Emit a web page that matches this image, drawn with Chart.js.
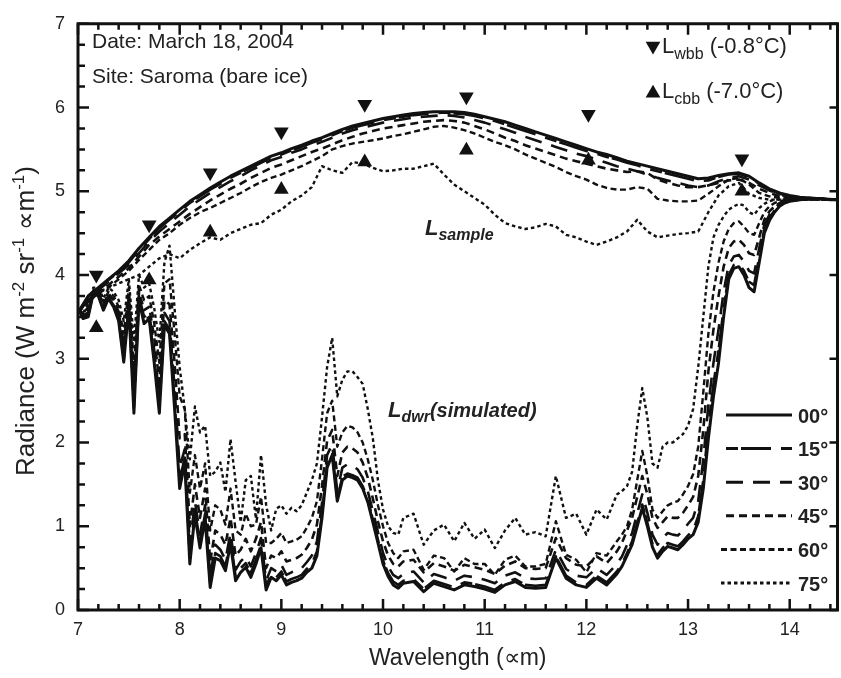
<!DOCTYPE html>
<html><head><meta charset="utf-8">
<script src="https://cdn.jsdelivr.net/npm/chart.js@4.4.1/dist/chart.umd.min.js"></script>
<style>html,body{margin:0;padding:0;background:#fff;overflow:hidden}#wrap{width:846px;height:678px}</style>
</head><body><div id="wrap"><canvas id="c" width="846" height="678" style="width:846px;height:678px"></canvas></div>
<script>
// ---------- data ----------
const xTickLabels = [7, 8, 9, 10, 11, 12, 13, 14];
const yTickLabels = [0, 1, 2, 3, 4, 5, 6, 7];
const angleLabels = ['00°', '15°', '30°', '45°', '60°', '75°'];

// blackbody reference points
const bbWavelength = [7.18, 7.70, 8.30, 9.00, 9.82, 10.82, 12.02, 13.53];
const lwbb = [4.00, 4.60, 5.22, 5.71, 6.04, 6.13, 5.92, 5.39];
const lcbb = [3.37, 3.94, 4.51, 5.02, 5.35, 5.49, 5.37, 5.00];

// L_sample family
const wlSample = [
 7.0,7.1,7.2,7.3,7.4,7.5,7.6,7.7,7.8,7.9,
 8.0,8.1,8.2,8.3,8.4,8.5,8.6,8.7,8.8,8.9,
 9.0,9.1,9.2,9.3,9.4,9.5,9.6,9.7,9.8,9.9,
 10.0,10.1,10.2,10.3,10.4,10.5,10.6,10.7,10.8,10.9,
 11.0,11.1,11.2,11.3,11.4,11.5,11.6,11.7,11.8,11.9,
 12.0,12.1,12.2,12.3,12.4,12.5,12.6,12.7,12.8,12.9,
 13.0,13.1,13.2,13.3,13.4,13.5,13.6,13.7,13.8,13.9,
 14.0,14.1,14.2,14.3,14.4,14.47];
const sample00 = [
 3.55,3.75,3.85,3.95,4.05,4.17,4.32,4.45,4.58,4.68,
 4.78,4.88,4.96,5.04,5.11,5.18,5.24,5.30,5.36,5.42,
 5.46,5.51,5.55,5.60,5.64,5.69,5.74,5.78,5.81,5.84,
 5.87,5.89,5.91,5.93,5.94,5.95,5.95,5.95,5.94,5.92,
 5.89,5.86,5.83,5.79,5.75,5.71,5.67,5.63,5.59,5.55,
 5.51,5.47,5.44,5.40,5.36,5.33,5.30,5.27,5.24,5.21,
 5.18,5.15,5.16,5.19,5.21,5.22,5.18,5.10,5.03,4.98,
 4.95,4.93,4.92,4.91,4.90,4.90];
const sample15 = [
 3.55,3.74,3.84,3.94,4.04,4.15,4.30,4.43,4.56,4.66,
 4.76,4.86,4.94,5.02,5.09,5.16,5.22,5.28,5.34,5.40,
 5.44,5.49,5.53,5.58,5.62,5.67,5.72,5.76,5.79,5.82,
 5.85,5.87,5.89,5.91,5.92,5.93,5.94,5.93,5.92,5.90,
 5.87,5.84,5.80,5.76,5.72,5.68,5.64,5.60,5.56,5.52,
 5.48,5.45,5.41,5.38,5.34,5.31,5.27,5.24,5.21,5.18,
 5.15,5.12,5.13,5.17,5.20,5.21,5.17,5.09,5.02,4.97,
 4.94,4.93,4.92,4.91,4.90,4.90];
const sample30 = [
 3.55,3.72,3.82,3.92,4.02,4.12,4.26,4.40,4.52,4.62,
 4.72,4.82,4.90,4.98,5.05,5.12,5.18,5.25,5.31,5.37,
 5.41,5.46,5.50,5.55,5.59,5.64,5.69,5.73,5.76,5.79,
 5.82,5.84,5.86,5.88,5.89,5.90,5.91,5.90,5.88,5.85,
 5.82,5.78,5.74,5.70,5.65,5.61,5.57,5.53,5.49,5.45,
 5.42,5.38,5.34,5.30,5.27,5.24,5.20,5.16,5.13,5.10,
 5.07,5.05,5.07,5.12,5.16,5.18,5.14,5.07,5.01,4.96,
 4.93,4.92,4.91,4.91,4.90,4.90];
const sample45 = [
 3.55,3.70,3.80,3.88,3.98,4.08,4.22,4.36,4.46,4.55,
 4.64,4.73,4.81,4.89,4.96,5.03,5.09,5.16,5.22,5.28,
 5.32,5.37,5.42,5.47,5.51,5.56,5.61,5.65,5.69,5.72,
 5.75,5.77,5.79,5.81,5.83,5.84,5.85,5.84,5.82,5.78,
 5.74,5.69,5.64,5.60,5.55,5.51,5.47,5.43,5.39,5.36,
 5.33,5.30,5.27,5.25,5.23,5.24,5.22,5.14,5.10,5.07,
 5.05,5.05,5.07,5.10,5.13,5.14,5.10,5.03,4.98,4.94,
 4.92,4.91,4.91,4.90,4.90,4.90];
const sample60 = [
 3.55,3.68,3.78,3.85,3.95,4.05,4.18,4.30,4.42,4.50,
 4.60,4.68,4.75,4.80,4.86,4.92,4.98,5.05,5.11,5.16,
 5.20,5.25,5.30,5.36,5.42,5.50,5.54,5.57,5.59,5.61,
 5.63,5.66,5.68,5.71,5.74,5.77,5.78,5.76,5.73,5.69,
 5.64,5.59,5.55,5.50,5.44,5.39,5.34,5.29,5.23,5.18,
 5.14,5.08,5.04,5.02,5.02,5.05,5.03,4.91,4.89,4.88,
 4.88,4.89,4.97,5.06,5.14,5.16,5.08,4.98,4.94,4.92,
 4.91,4.90,4.90,4.90,4.90,4.90];
const sample75 = [
 3.55,3.70,3.80,3.85,3.90,3.95,4.00,4.10,4.20,4.25,
 4.20,4.30,4.38,4.45,4.42,4.50,4.55,4.60,4.62,4.72,
 4.78,4.88,4.95,5.05,5.30,5.25,5.22,5.35,5.33,5.28,
 5.24,5.25,5.27,5.27,5.30,5.33,5.20,5.08,5.00,4.92,
 4.84,4.72,4.62,4.58,4.55,4.57,4.61,4.58,4.48,4.45,
 4.40,4.36,4.40,4.45,4.52,4.66,4.52,4.45,4.47,4.49,
 4.50,4.52,4.75,4.95,5.06,5.10,4.97,4.92,4.90,4.90,
 4.90,4.90,4.90,4.90,4.90,4.90];

// L_dwr (simulated) family
const wlDwr = [
 7.00,7.05,7.10,7.15,7.20, 7.25,7.30,7.35,7.40,7.45, 7.50,7.55,7.60,7.65,7.70,
 7.75,7.80,7.85,7.90,7.95, 8.00,8.05,8.10,8.15,8.20, 8.25,8.30,8.35,8.40,8.45,
 8.50,8.55,8.60,8.65,8.70, 8.75,8.80,8.85,8.90,8.95, 9.00,9.05,9.10,9.15,9.20,
 9.25,9.30,9.35,9.40,9.45, 9.50,9.55,9.60,9.65,9.70, 9.75,9.80,9.85,9.90,9.95,
 10.00,10.05,10.10,10.15,10.20,
 10.3,10.4,10.5,10.6,10.7, 10.8,10.9,11.0,11.1,11.2, 11.3,11.4,11.5,11.6,11.7,
 11.8,11.9,12.0,12.1,12.2, 12.3,
 12.35,12.40,12.45,12.50,12.55, 12.60,12.65,12.70,12.75,12.80, 12.85,12.90,12.95,13.00,13.05,
 13.10,13.15,13.20,13.25,13.30, 13.35,13.40,13.45,13.50,13.55, 13.60,13.65,13.70,13.75,13.80,
 13.85,13.90,13.95,14.00,
 14.1,14.2,14.3,14.47];
const dwr00 = [
 3.60,3.48,3.50,3.78,3.75, 3.58,3.72,3.62,3.45,2.96, 3.62,2.35,3.70,3.42,3.48,
 2.95,2.35,3.40,3.30,2.40, 1.45,1.76,0.55,1.14,0.74, 1.09,0.27,0.62,0.59,0.47,
 0.79,0.35,0.45,0.51,0.39, 0.55,0.74,0.24,0.39,0.35, 0.42,0.30,0.33,0.35,0.38,
 0.45,0.50,0.65,1.10,1.70, 1.85,1.30,1.55,1.60,1.58, 1.55,1.45,1.29,1.05,0.80,
 0.55,0.40,0.30,0.26,0.32,
 0.34,0.22,0.32,0.28,0.24, 0.30,0.28,0.25,0.21,0.30, 0.34,0.27,0.26,0.27,0.62,
 0.38,0.30,0.27,0.38,0.30, 0.43,
 0.52,0.65,0.78,1.00,1.22, 1.00,0.75,0.62,0.70,0.76, 0.74,0.72,0.78,0.85,0.90,
 1.05,1.45,2.05,2.55,2.95, 3.50,3.95,4.08,4.10,4.00, 3.85,3.80,4.15,4.50,4.65,
 4.75,4.82,4.86,4.88,
 4.90,4.91,4.91,4.90];
const dwr15 = [
 3.60,3.50,3.52,3.78,3.76, 3.60,3.73,3.64,3.48,3.00, 3.64,2.42,3.72,3.45,3.50,
 3.00,2.42,3.45,3.35,2.50, 1.55,1.82,0.62,1.20,0.80, 1.15,0.32,0.68,0.64,0.52,
 0.84,0.40,0.50,0.56,0.44, 0.60,0.78,0.28,0.43,0.39, 0.46,0.34,0.37,0.39,0.42,
 0.49,0.55,0.70,1.15,1.74, 1.88,1.33,1.59,1.63,1.61, 1.58,1.48,1.32,1.08,0.84,
 0.59,0.44,0.34,0.30,0.35,
 0.37,0.25,0.35,0.31,0.27, 0.33,0.31,0.28,0.24,0.33, 0.37,0.30,0.29,0.30,0.64,
 0.41,0.33,0.30,0.41,0.33, 0.46,
 0.55,0.68,0.82,1.04,1.26, 1.04,0.79,0.66,0.74,0.80, 0.78,0.76,0.82,0.89,0.95,
 1.12,1.55,2.20,2.70,3.10, 3.60,4.00,4.12,4.14,4.05, 3.92,3.88,4.22,4.55,4.68,
 4.77,4.83,4.87,4.89,
 4.90,4.91,4.91,4.90];
const dwr30 = [
 3.60,3.52,3.55,3.79,3.78, 3.62,3.75,3.66,3.52,3.08, 3.68,2.55,3.75,3.50,3.55,
 3.10,2.55,3.55,3.45,2.65, 1.70,1.92,0.75,1.30,0.90, 1.25,0.40,0.78,0.72,0.60,
 0.92,0.48,0.58,0.64,0.52, 0.68,0.86,0.35,0.50,0.46, 0.54,0.42,0.45,0.47,0.50,
 0.57,0.65,0.82,1.28,1.85, 1.98,1.42,1.70,1.74,1.72, 1.68,1.58,1.42,1.18,0.93,
 0.68,0.52,0.42,0.38,0.43,
 0.46,0.33,0.43,0.39,0.35, 0.41,0.39,0.36,0.32,0.41, 0.45,0.38,0.37,0.38,0.72,
 0.49,0.41,0.39,0.50,0.42, 0.55,
 0.64,0.78,0.92,1.15,1.38, 1.16,0.90,0.78,0.86,0.92, 0.90,0.89,0.95,1.03,1.10,
 1.30,1.80,2.45,2.95,3.35, 3.80,4.12,4.22,4.24,4.16, 4.05,4.02,4.32,4.60,4.72,
 4.80,4.85,4.88,4.89,
 4.90,4.91,4.91,4.90];
const dwr45 = [
 3.60,3.53,3.58,3.80,3.80, 3.65,3.78,3.70,3.56,3.18, 3.75,2.70,3.80,3.58,3.62,
 3.25,2.72,3.70,3.65,2.95, 2.05,2.10,1.00,1.50,1.10, 1.45,0.58,0.95,0.90,0.78,
 1.10,0.65,0.72,0.85,0.70, 0.85,1.05,0.50,0.65,0.62, 0.70,0.58,0.60,0.62,0.66,
 0.74,0.84,1.02,1.48,2.02, 2.15,1.60,1.88,1.95,1.93, 1.88,1.76,1.58,1.33,1.06,
 0.82,0.65,0.55,0.52,0.58,
 0.60,0.45,0.56,0.52,0.47, 0.54,0.51,0.48,0.43,0.53, 0.58,0.50,0.49,0.50,0.86,
 0.62,0.54,0.52,0.64,0.56, 0.70,
 0.80,0.95,1.10,1.35,1.60, 1.38,1.10,0.98,1.05,1.12, 1.10,1.10,1.16,1.25,1.35,
 1.60,2.15,2.85,3.35,3.75, 4.10,4.32,4.40,4.42,4.36, 4.26,4.24,4.45,4.66,4.76,
 4.82,4.86,4.88,4.89,
 4.90,4.91,4.91,4.90];
const dwr60 = [
 3.60,3.54,3.62,3.82,3.82, 3.68,3.80,3.75,3.62,3.30, 3.85,2.92,3.88,3.70,3.75,
 3.42,2.95,3.90,3.95,3.30, 2.55,2.40,1.40,1.85,1.45, 1.75,0.95,1.25,1.20,1.02,
 1.45,0.95,0.90,1.15,1.00, 1.02,1.35,0.80,0.80,0.85, 0.92,0.80,0.82,0.84,0.88,
 0.98,1.10,1.30,1.80,2.35, 2.50,1.95,2.12,2.20,2.18, 2.12,2.00,1.80,1.55,1.25,
 1.00,0.80,0.68,0.62,0.70,
 0.72,0.48,0.65,0.62,0.46, 0.62,0.55,0.55,0.42,0.60, 0.65,0.52,0.52,0.55,1.06,
 0.66,0.60,0.45,0.68,0.65, 0.82,
 0.90,1.00,1.20,1.55,1.90, 1.60,1.20,1.10,1.18,1.25, 1.28,1.30,1.38,1.48,1.62,
 1.95,2.60,3.30,3.80,4.15, 4.40,4.55,4.62,4.64,4.58, 4.50,4.48,4.62,4.75,4.82,
 4.86,4.88,4.89,4.90,
 4.90,4.91,4.91,4.90];
const dwr75 = [
 3.60,3.55,3.65,3.85,3.85, 3.72,3.85,3.80,3.70,3.45, 3.95,3.20,4.00,3.85,3.90,
 3.60,3.20,4.15,4.35,3.60, 2.90,2.40,1.80,2.43,2.12, 2.20,1.60,1.65,1.76,1.41,
 2.04,1.53,1.05,1.55,1.60, 1.09,1.85,1.26,0.95,1.21, 1.25,1.15,1.22,1.18,1.25,
 1.40,1.55,1.75,2.30,2.90, 3.25,2.55,2.75,2.85,2.85, 2.78,2.70,2.40,2.05,1.55,
 1.20,1.00,0.92,0.90,1.10,
 1.15,0.78,0.95,1.02,0.82, 1.04,0.85,0.96,0.74,0.95, 1.10,0.90,0.93,0.88,1.60,
 1.10,1.15,0.90,1.20,1.08, 1.38,
 1.42,1.48,1.65,2.20,2.65, 2.30,1.75,1.70,1.95,2.00, 2.00,2.05,2.10,2.20,2.40,
 2.90,3.50,4.10,4.45,4.60, 4.70,4.78,4.82,4.85,4.83, 4.75,4.72,4.80,4.85,4.88,
 4.90,4.90,4.90,4.90,
 4.90,4.90,4.90,4.90];

// ---------- styles ----------
const INK = '#111';
const TXT = '#222';
const FONT = '"Liberation Sans", Arial, Helvetica, sans-serif';
const lineStyles = [
  { dash: [], width: 3 },
  { dash: [30, 10, 12, 3], width: 2.6 },
  { dash: [17, 10], width: 2.6 },
  { dash: [8, 5], width: 2.6 },
  { dash: [6, 3.5], width: 2.4 },
  { dash: [3.5, 3], width: 2.4 }
];

const sampleSeries = [sample00, sample15, sample30, sample45, sample60, sample75];
const dwrSeries = [dwr00, dwr15, dwr30, dwr45, dwr60, dwr75];

function lineDataset(label, xs, ys, st) {
  return {
    label, showLine: true,
    data: xs.map((x, i) => ({ x, y: ys[i] })),
    borderColor: INK, backgroundColor: INK,
    borderWidth: st.width, borderDash: st.dash,
    borderJoinStyle: 'round', borderCapStyle: 'butt',
    pointRadius: 0, pointHoverRadius: 0, tension: 0, fill: false
  };
}

const datasets = [];
sampleSeries.forEach((s, i) => datasets.push(lineDataset('L_sample ' + angleLabels[i], wlSample, s, lineStyles[i])));
dwrSeries.forEach((s, i) => datasets.push(lineDataset('L_dwr ' + angleLabels[i], wlDwr, s, lineStyles[i])));
datasets.push({
  label: 'L_wbb (-0.8°C)', showLine: false,
  data: bbWavelength.map((x, i) => ({ x, y: lwbb[i] })),
  pointStyle: 'triangle', rotation: 180, pointRadius: 8.5, pointHoverRadius: 8.5,
  backgroundColor: INK, borderColor: INK, borderWidth: 0
});
datasets.push({
  label: 'L_cbb (-7.0°C)', showLine: false,
  data: bbWavelength.map((x, i) => ({ x, y: lcbb[i] })),
  pointStyle: 'triangle', rotation: 0, pointRadius: 8.5, pointHoverRadius: 8.5,
  backgroundColor: INK, borderColor: INK, borderWidth: 0
});

// ---------- helpers ----------
function drawRuns(ctx, x, y, runs) {
  let cx = x;
  runs.forEach(r => {
    ctx.font = r.font;
    ctx.fillText(r.t, cx, y + (r.dy || 0));
    cx += ctx.measureText(r.t).width + (r.gap || 0);
  });
  return cx;
}
function runsWidth(ctx, runs) {
  let w = 0;
  runs.forEach(r => { ctx.font = r.font; w += ctx.measureText(r.t).width + (r.gap || 0); });
  return w;
}
function triangle(ctx, cx, cy, r, down) {
  const h = r * 1.5, w = r * Math.sqrt(3);
  ctx.beginPath();
  if (down) {
    ctx.moveTo(cx - w / 2, cy - h / 2); ctx.lineTo(cx + w / 2, cy - h / 2); ctx.lineTo(cx, cy + h / 2);
  } else {
    ctx.moveTo(cx - w / 2, cy + h / 2); ctx.lineTo(cx + w / 2, cy + h / 2); ctx.lineTo(cx, cy - h / 2);
  }
  ctx.closePath(); ctx.fill();
}

const decor = {
  id: 'decor',
  afterDatasetsDraw(chart) {
    const { ctx, chartArea: a, scales: { x, y } } = chart;
    ctx.save();
    ctx.setLineDash([]);
    ctx.strokeStyle = INK;
    // frame
    ctx.lineWidth = 3;
    ctx.beginPath();
    ctx.moveTo(a.left, a.top); ctx.lineTo(a.left, a.bottom); ctx.lineTo(a.right, a.bottom);
    ctx.lineTo(a.right, a.top); ctx.closePath(); ctx.stroke();
    // ticks (inward)
    ctx.lineWidth = 2.5;
    ctx.beginPath();
    const xmin = Math.ceil(x.min * 5), xmax = Math.floor(x.max * 5);
    for (let k = xmin; k <= xmax; k++) {
      const px = x.getPixelForValue(k / 5);
      const len = k % 5 === 0 ? 11 : 6;
      ctx.moveTo(px, a.bottom); ctx.lineTo(px, a.bottom - len);
      ctx.moveTo(px, a.top); ctx.lineTo(px, a.top + len);
    }
    for (let k = 0; k <= 28; k++) {
      const py = y.getPixelForValue(k / 4);
      const len = k % 4 === 0 ? 11 : 7;
      ctx.moveTo(a.left, py); ctx.lineTo(a.left + len, py);
      if (k % 4 === 0) { ctx.moveTo(a.right, py); ctx.lineTo(a.right - 8, py); }
    }
    ctx.stroke();

    ctx.fillStyle = TXT;
    ctx.textBaseline = 'alphabetic';
    ctx.textAlign = 'left';
    // annotations top-left
    ctx.font = '21px ' + FONT;
    ctx.fillText('Date: March 18, 2004', 92, 48);
    ctx.fillText('Site: Saroma (bare ice)', 92, 83);

    // blackbody legend (top right)
    ctx.fillStyle = INK;
    triangle(ctx, 653, 48, 8.5, true);
    triangle(ctx, 653, 91, 8.5, false);
    ctx.fillStyle = TXT;
    const mainF = '22px ' + FONT, subF = '16px ' + FONT;
    drawRuns(ctx, 662, 53, [{ t: 'L', font: mainF }, { t: 'wbb', font: subF, dy: 6 }, { t: ' (-0.8°C)', font: mainF }]);
    drawRuns(ctx, 662, 98, [{ t: 'L', font: mainF }, { t: 'cbb', font: subF, dy: 6 }, { t: ' (-7.0°C)', font: mainF }]);

    // curve labels
    const biL = 'italic bold 22px ' + FONT, biS = 'italic bold 16px ' + FONT, biM = 'italic bold 20px ' + FONT;
    drawRuns(ctx, 425, 235, [{ t: 'L', font: biL }, { t: 'sample', font: biS, dy: 5 }]);
    drawRuns(ctx, 388, 417, [{ t: 'L', font: biL }, { t: 'dwr', font: biS, dy: 5 }, { t: '(simulated)', font: biM }]);

    // angle legend (bottom right)
    for (let i = 0; i < 6; i++) {
      const ly = 415 + 33.6 * i;
      const st = lineStyles[i];
      ctx.strokeStyle = INK;
      ctx.lineWidth = 3;
      ctx.setLineDash(st.dash);
      ctx.lineDashOffset = i === 1 ? 40 : 0;
      ctx.beginPath();
      ctx.moveTo(i >= 4 ? 721 : 726, ly); ctx.lineTo(792, ly);
      ctx.stroke();
      ctx.setLineDash([]);
      ctx.lineDashOffset = 0;
      ctx.font = 'bold 20px ' + FONT;
      ctx.textBaseline = 'middle';
      ctx.fillStyle = TXT;
      ctx.fillText(angleLabels[i], 798, ly + 2);
    }
    ctx.textBaseline = 'alphabetic';

    // axis titles
    ctx.font = '23px ' + FONT;
    ctx.textAlign = 'center';
    ctx.fillText('Wavelength (∝m)', (a.left + a.right) / 2, 665);
    ctx.textAlign = 'left';
    const yF = '26px ' + FONT, ySup = '17px ' + FONT;
    const yRuns = [
      { t: 'Radiance (W m', font: yF }, { t: '-2', font: ySup, dy: -10 },
      { t: ' sr', font: yF }, { t: '-1', font: ySup, dy: -10 },
      { t: ' ∝m', font: yF }, { t: '-1', font: ySup, dy: -10 },
      { t: ')', font: yF }
    ];
    const tw = runsWidth(ctx, yRuns);
    ctx.save();
    ctx.translate(34, 321);
    ctx.rotate(-Math.PI / 2);
    drawRuns(ctx, -tw / 2, 0, yRuns);
    ctx.restore();
    ctx.restore();
  }
};

new Chart(document.getElementById('c'), {
  type: 'scatter',
  data: { datasets },
  options: {
    responsive: false, animation: false, devicePixelRatio: 1,
    layout: { padding: { top: 15, right: 1, left: 0, bottom: 0 } },
    plugins: { legend: { display: false }, tooltip: { enabled: false } },
    events: [],
    scales: {
      x: {
        type: 'linear', min: 7, max: 14.47,
        afterBuildTicks: s => { s.ticks = xTickLabels.map(v => ({ value: v })); },
        afterFit: s => { s.height = 68; },
        grid: { display: false, drawTicks: false }, border: { display: false },
        ticks: { padding: 9, color: TXT, font: { family: FONT, size: 18 }, maxRotation: 0, autoSkip: false, callback: v => String(v) }
      },
      y: {
        type: 'linear', min: 0, max: 7,
        afterBuildTicks: s => { s.ticks = yTickLabels.map(v => ({ value: v })); },
        afterFit: s => { s.width = 78; },
        grid: { display: false, drawTicks: false }, border: { display: false },
        ticks: { padding: 13, color: TXT, font: { family: FONT, size: 18 }, autoSkip: false, callback: v => String(v) }
      }
    }
  },
  plugins: [decor]
});
</script>
</body></html>
